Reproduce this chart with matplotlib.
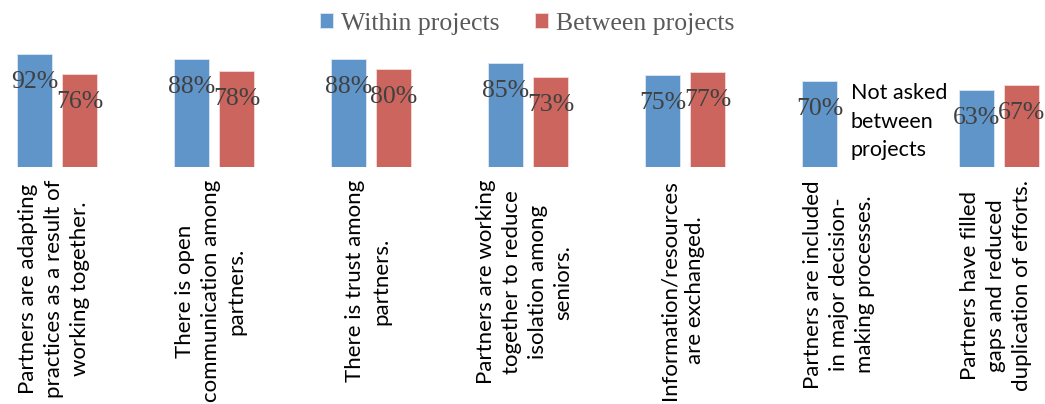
import matplotlib
matplotlib.use("Agg")
import matplotlib.pyplot as plt
import numpy as np

categories = [
    "Partners are adapting\npractices as a result of\nworking together.",
    "There is open\ncommunication among\npartners.",
    "There is trust among\npartners.",
    "Partners are working\ntogether to reduce\nisolation among\nseniors.",
    "Information/resources\nare exchanged.",
    "Partners are included\nin major decision-\nmaking processes.",
    "Partners have filled\ngaps and reduced\nduplication of efforts.",
]
within = [92, 88, 88, 85, 75, 70, 63]
between = [76, 78, 80, 73, 77, None, 67]
series_names = ["Within projects", "Between projects"]
note = "Not asked\nbetween\nprojects"

blue = "#5f95c9"
red = "#cc655e"
W, H = 1045, 404

fig = plt.figure(figsize=(W / 100, H / 100), dpi=100)
# baseline at 167px from top, 1.228 px per percent
ax = fig.add_axes([0, (H - 167) / H, 1, 122.8 / H])
ax.set_xlim(-57 / 157, (W - 57) / 157)
ax.set_ylim(0, 100)
ax.axis("off")

x = np.arange(len(categories))
bw = 0.223
off = 0.143

b1 = ax.bar(x - off, within, bw, color=blue, edgecolor="#dfe8f3", linewidth=0.6, label=series_names[0])
bx = [xi + off for xi, v in zip(x, between) if v is not None]
bv = [v for v in between if v is not None]
b2 = ax.bar(bx, bv, bw, color=red, edgecolor="#f3dcdb", linewidth=0.6, label=series_names[1])

lab_kw = dict(textcoords="offset pixels", ha="center", va="center",
              family="Liberation Serif", fontsize=18.5, color="#404040")
for xi, v in zip(x, within):
    ax.annotate(f"{v}%", (xi - off, v), xytext=(0, -28), **lab_kw)
for xi, v in zip(bx, bv):
    ax.annotate(f"{v}%", (xi, v), xytext=(0, -28), **lab_kw)

for xi, c in zip(x, categories):
    ax.annotate(c, (xi, 0), xytext=(-3, -13), textcoords="offset pixels",
                rotation=90, ha="center", va="top", multialignment="center",
                family="Lato", fontsize=16, color="black", linespacing=1.36)

ax.text((851 - 57) / 157, 37, note, ha="left", va="center", family="Lato",
        fontsize=15.5, color="black", linespacing=1.55)

leg = fig.legend(handles=[b1, b2], labels=series_names, loc="upper center",
                 bbox_to_anchor=(527 / W, 1.0), ncol=2, frameon=False,
                 handlelength=0.5, handleheight=0.5, handletextpad=0.3,
                 columnspacing=1.4, borderaxespad=0.1,
                 prop={"family": "Liberation Serif", "size": 18.5})
for t in leg.get_texts():
    t.set_color("#595959")

fig.savefig("out.png", dpi=100)
